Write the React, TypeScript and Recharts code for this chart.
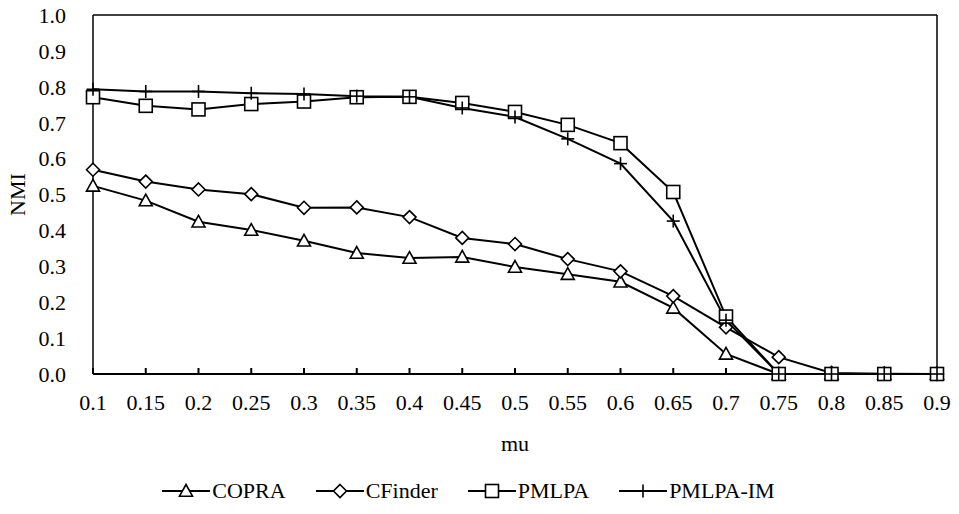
import React from "react"
import {
  LineChart,
  Line,
  XAxis,
  YAxis,
  Legend,
  ReferenceLine,
} from "recharts"

const FONT = "Liberation Serif"

// mu values along the x axis
const categories = [
  "0.1", "0.15", "0.2", "0.25", "0.3", "0.35", "0.4", "0.45", "0.5",
  "0.55", "0.6", "0.65", "0.7", "0.75", "0.8", "0.85", "0.9",
]

const copra = [
  0.524, 0.483, 0.424, 0.401, 0.371, 0.337, 0.323, 0.326, 0.298,
  0.278, 0.257, 0.184, 0.056, 0.0, 0.0, 0.0, 0.0,
]
const cfinder = [
  0.569, 0.536, 0.514, 0.501, 0.463, 0.464, 0.437, 0.379, 0.362,
  0.32, 0.286, 0.217, 0.13, 0.047, 0.003, 0.001, 0.0,
]
const pmlpa = [
  0.771, 0.747, 0.737, 0.752, 0.759, 0.771, 0.772, 0.755, 0.73,
  0.694, 0.643, 0.507, 0.16, 0.0, 0.0, 0.0, 0.0,
]
const pmlpaIm = [
  0.793, 0.787, 0.787, 0.782, 0.78, 0.774, 0.772, 0.741, 0.716,
  0.655, 0.586, 0.426, 0.15, 0.0, 0.0, 0.0, 0.0,
]

const yTicks = [0, 0.1, 0.2, 0.3, 0.4, 0.5, 0.6, 0.7, 0.8, 0.9, 1.0]

const data = categories.map((mu, i) => ({
  mu,
  COPRA: copra[i],
  CFinder: cfinder[i],
  PMLPA: pmlpa[i],
  "PMLPA-IM": pmlpaIm[i],
}))

type Shape = "triangle" | "diamond" | "square" | "plus"

function Marker({ cx, cy, shape }: { cx: number; cy: number; shape: Shape }) {
  const s = 6.5
  const common = { fill: "#fff", stroke: "#000", strokeWidth: 1.6 }
  if (shape === "triangle") {
    return (
      <polygon
        points={`${cx},${cy - s} ${cx + s},${cy + s * 0.8} ${cx - s},${cy + s * 0.8}`}
        {...common}
      />
    )
  }
  if (shape === "diamond") {
    return (
      <polygon
        points={`${cx},${cy - s} ${cx + s},${cy} ${cx},${cy + s} ${cx - s},${cy}`}
        {...common}
      />
    )
  }
  if (shape === "square") {
    return <rect x={cx - s} y={cy - s} width={2 * s} height={2 * s} {...common} />
  }
  return (
    <g stroke="#000" strokeWidth={1.6}>
      <line x1={cx - s} y1={cy} x2={cx + s} y2={cy} />
      <line x1={cx} y1={cy - s} x2={cx} y2={cy + s} />
    </g>
  )
}

const SERIES: { key: string; shape: Shape }[] = [
  { key: "COPRA", shape: "triangle" },
  { key: "CFinder", shape: "diamond" },
  { key: "PMLPA", shape: "square" },
  { key: "PMLPA-IM", shape: "plus" },
]

function makeDot(shape: Shape) {
  return (props: any) => {
    const { cx, cy, index } = props
    if (cx == null || cy == null) return <g key={index} />
    return <Marker key={index} cx={cx} cy={cy} shape={shape} />
  }
}

function LegendContent() {
  return (
    <div className="nmi-legend">
      {SERIES.map((s, i) => (
        <div
          key={s.key}
          style={{
            display: "flex",
            alignItems: "center",
            marginRight: i < SERIES.length - 1 ? 30 : 0,
          }}
        >
          <svg width={48} height={20} style={{ marginRight: 2 }}>
            <line x1={0} y1={10} x2={48} y2={10} stroke="#000" strokeWidth={2} />
            <Marker cx={24} cy={10} shape={s.shape} />
          </svg>
          <span>{s.key}</span>
        </div>
      ))}
    </div>
  )
}

function YLabel(props: any) {
  const { viewBox } = props
  const x = 17
  const y = viewBox.y + viewBox.height / 2
  return (
    <text
      x={x}
      y={y}
      transform={`rotate(-90, ${x}, ${y})`}
      textAnchor="middle"
      dominantBaseline="central"
      fontSize={22}
      fill="#000"
    >
      NMI
    </text>
  )
}

function XLabel(props: any) {
  const { viewBox } = props
  const x = viewBox.x + viewBox.width / 2
  const y = viewBox.y + 69
  return (
    <text
      x={x}
      y={y}
      textAnchor="middle"
      dominantBaseline="central"
      fontSize={22}
      fill="#000"
    >
      mu
    </text>
  )
}

const css = `
body { margin: 0; }
.nmi-chart, .nmi-chart text, .nmi-chart span, .nmi-chart tspan {
  font-family: "${FONT}", serif !important;
}
.nmi-legend {
  display: flex; justify-content: center; align-items: center;
  font-size: 22px; color: #000;
}
`

export default function App() {
  return (
    <div className="nmi-chart" style={{ width: 959, height: 514, background: "#fff" }}>
      <style>{css}</style>
      <LineChart
        width={959}
        height={514}
        data={data}
        margin={{ top: 15, right: 22, left: 0, bottom: 4 }}
      >
        <XAxis
          dataKey="mu"
          stroke="#000"
          strokeWidth={2}
          tickSize={-6}
          tickMargin={26}
          tick={{ fill: "#000", fontSize: 22 }}
          interval={0}
          height={104}
          label={<XLabel />}
        />
        <YAxis
          domain={[0, 1]}
          ticks={yTicks}
          stroke="#000"
          strokeWidth={1.5}
          tickLine={false}
          tickSize={0}
          tickMargin={27}
          width={93}
          tick={{ fill: "#000", fontSize: 22 }}
          tickFormatter={(v: number) => v.toFixed(1)}
          label={<YLabel />}
        />
        <ReferenceLine y={1} stroke="#000" strokeWidth={1.5} />
        <ReferenceLine x="0.9" stroke="#000" strokeWidth={1.5} />
        <Legend verticalAlign="bottom" height={32} content={<LegendContent />} />
        {SERIES.map((s) => (
          <Line
            key={s.key}
            dataKey={s.key}
            stroke="#000"
            strokeWidth={2}
            dot={makeDot(s.shape)}
            activeDot={false}
            isAnimationActive={false}
          />
        ))}
      </LineChart>
    </div>
  )
}
